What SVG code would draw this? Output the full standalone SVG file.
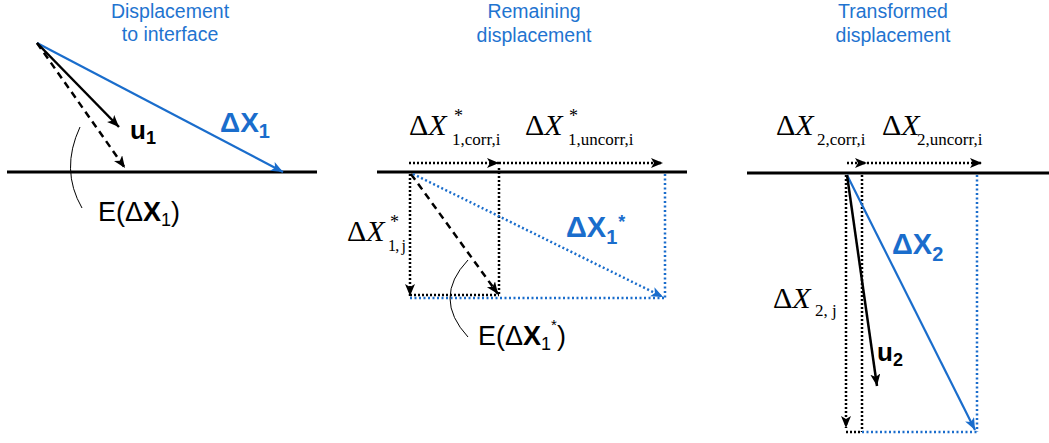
<svg xmlns="http://www.w3.org/2000/svg" width="1049" height="443" viewBox="0 0 1049 443">
<style>
.title{font-family:"Liberation Sans",Arial,sans-serif;font-size:19.5px;fill:#1f74d0;text-anchor:middle}
.sans{font-family:"Liberation Sans",Arial,sans-serif;fill:#000}
.serif{font-family:"Liberation Serif","Times New Roman",serif;fill:#000}
.bb{font-family:"Liberation Sans",Arial,sans-serif;font-weight:bold;fill:#1a6dcc}
.bk{font-family:"Liberation Sans",Arial,sans-serif;font-weight:bold;fill:#000}
.iface{stroke:#000;stroke-width:3;fill:none}
.solid{stroke:#000;stroke-width:2.5;fill:none}
.dash{stroke:#000;stroke-width:2.5;stroke-dasharray:7,5;fill:none}
.dot{stroke:#000;stroke-width:2.5;stroke-dasharray:2,2;fill:none}
.bsolid{stroke:#1a6dcc;stroke-width:2.2;fill:none}
.bdot{stroke:#1a6dcc;stroke-width:2.5;stroke-dasharray:2,2.5;fill:none}
.thin{stroke:#000;stroke-width:1;fill:none}
</style>
<defs>
<marker id="ak" markerUnits="userSpaceOnUse" markerWidth="14" markerHeight="12" refX="12" refY="5" orient="auto">
<path d="M0,0 L12,5 L0,10 L3,5 z" fill="#000"/>
</marker>
<marker id="ab" markerUnits="userSpaceOnUse" markerWidth="14" markerHeight="12" refX="12" refY="5" orient="auto">
<path d="M0,0 L12,5 L0,10 L3,5 z" fill="#1a6dcc"/>
</marker>
</defs>

<g id="titles">
<text class="title" x="170" y="18">Displacement</text>
<text class="title" x="170" y="41">to interface</text>
<text class="title" x="534" y="18">Remaining</text>
<text class="title" x="534" y="42">displacement</text>
<text class="title" x="893" y="18">Transformed</text>
<text class="title" x="893" y="42">displacement</text>
</g>

<g id="connectors">
<!-- panel 1 -->
<path class="iface" d="M7,172 H317"/>
<path class="bsolid" d="M37,43 L283,172" marker-end="url(#ab)"/>
<path class="solid" d="M37,43 L119,127" marker-end="url(#ak)"/>
<path class="dash" d="M37,43 L125,168" marker-end="url(#ak)"/>
<path class="thin" d="M80,127 Q60,170 82,208"/>
<!-- panel 2 -->
<path class="iface" d="M377,172 H687"/>
<path class="dot" d="M409,163 H499" marker-end="url(#ak)"/>
<path class="dot" d="M499,163 H663" marker-end="url(#ak)"/>
<path class="dot" d="M410,174 V296" marker-end="url(#ak)"/>
<path class="dot" d="M499,168 V296"/>
<path class="dot" d="M410,295 H499"/>
<path class="dash" d="M411,174 L498,294" marker-end="url(#ak)"/>
<path class="bdot" d="M413,174 L663,297" marker-end="url(#ab)"/>
<path class="bdot" d="M665,174 V298"/>
<path class="bdot" d="M410,298 H665"/>
<path class="thin" d="M468,260 Q432,298 468,337"/>
<!-- panel 3 -->
<path class="iface" d="M747,173 H1049"/>
<path class="dot" d="M847,163 H867" marker-end="url(#ak)"/>
<path class="dot" d="M867,163 H982" marker-end="url(#ak)"/>
<path class="dot" d="M846,175 V428" marker-end="url(#ak)"/>
<path class="dot" d="M862,175 V432"/>
<path class="dot" d="M846,432 H862"/>
<path class="bdot" d="M977,175 V432"/>
<path class="bdot" d="M862,432 H977"/>
<path class="bsolid" d="M847,175 L975,430" marker-end="url(#ab)"/>
<path class="solid" d="M847,175 L877,386" marker-end="url(#ak)"/>
</g>

<g id="panel1-labels">
<text class="bk" x="130" y="139" font-size="26">u<tspan font-size="18" dy="5">1</tspan></text>
<text class="bb" x="220" y="132" font-size="28">ΔX<tspan font-size="20" dy="6">1</tspan></text>
<text class="sans" x="98" y="221" font-size="27">E(Δ<tspan font-weight="bold">X</tspan><tspan font-size="18" dy="5">1</tspan><tspan dy="-5">)</tspan></text>
</g>

<g id="panel2-labels">
<text class="serif" x="409" y="135" font-size="30">Δ<tspan font-style="italic">X</tspan></text>
<text class="serif" x="454" y="122" font-size="18">*</text>
<text class="serif" x="452" y="145" font-size="17">1,corr,i</text>
<text class="serif" x="525" y="135" font-size="30">Δ<tspan font-style="italic">X</tspan></text>
<text class="serif" x="569" y="122" font-size="18">*</text>
<text class="serif" x="568" y="145" font-size="17">1,uncorr,i</text>
<text class="serif" x="347" y="241" font-size="30">Δ<tspan font-style="italic">X</tspan></text>
<text class="serif" x="390" y="228" font-size="18">*</text>
<text class="serif" x="388" y="251" font-size="16" letter-spacing="-0.8">1, j</text>
<text class="bb" x="566" y="237" font-size="29">ΔX<tspan font-size="20" dy="7">1</tspan><tspan font-size="18" dx="1" dy="-16">*</tspan></text>
<text class="sans" x="478" y="345" font-size="27">E(Δ<tspan font-weight="bold">X</tspan><tspan font-size="18" dy="5">1</tspan><tspan font-size="15" dy="-20">*</tspan><tspan dy="15">)</tspan></text>
</g>

<g id="panel3-labels">
<text class="serif" x="776" y="135" font-size="30">Δ<tspan font-style="italic">X</tspan></text>
<text class="serif" x="817" y="145" font-size="17">2,corr,i</text>
<text class="serif" x="882" y="135" font-size="30">Δ<tspan font-style="italic">X</tspan></text>
<text class="serif" x="917" y="145" font-size="17">2,uncorr,i</text>
<text class="serif" x="773" y="308" font-size="30">Δ<tspan font-style="italic">X</tspan></text>
<text class="serif" x="815" y="316" font-size="17">2, j</text>
<text class="bb" x="892" y="254" font-size="29">ΔX<tspan font-size="20" dy="7">2</tspan></text>
<text class="bk" x="877" y="361" font-size="26">u<tspan font-size="18" dy="5">2</tspan></text>
</g>
</svg>
